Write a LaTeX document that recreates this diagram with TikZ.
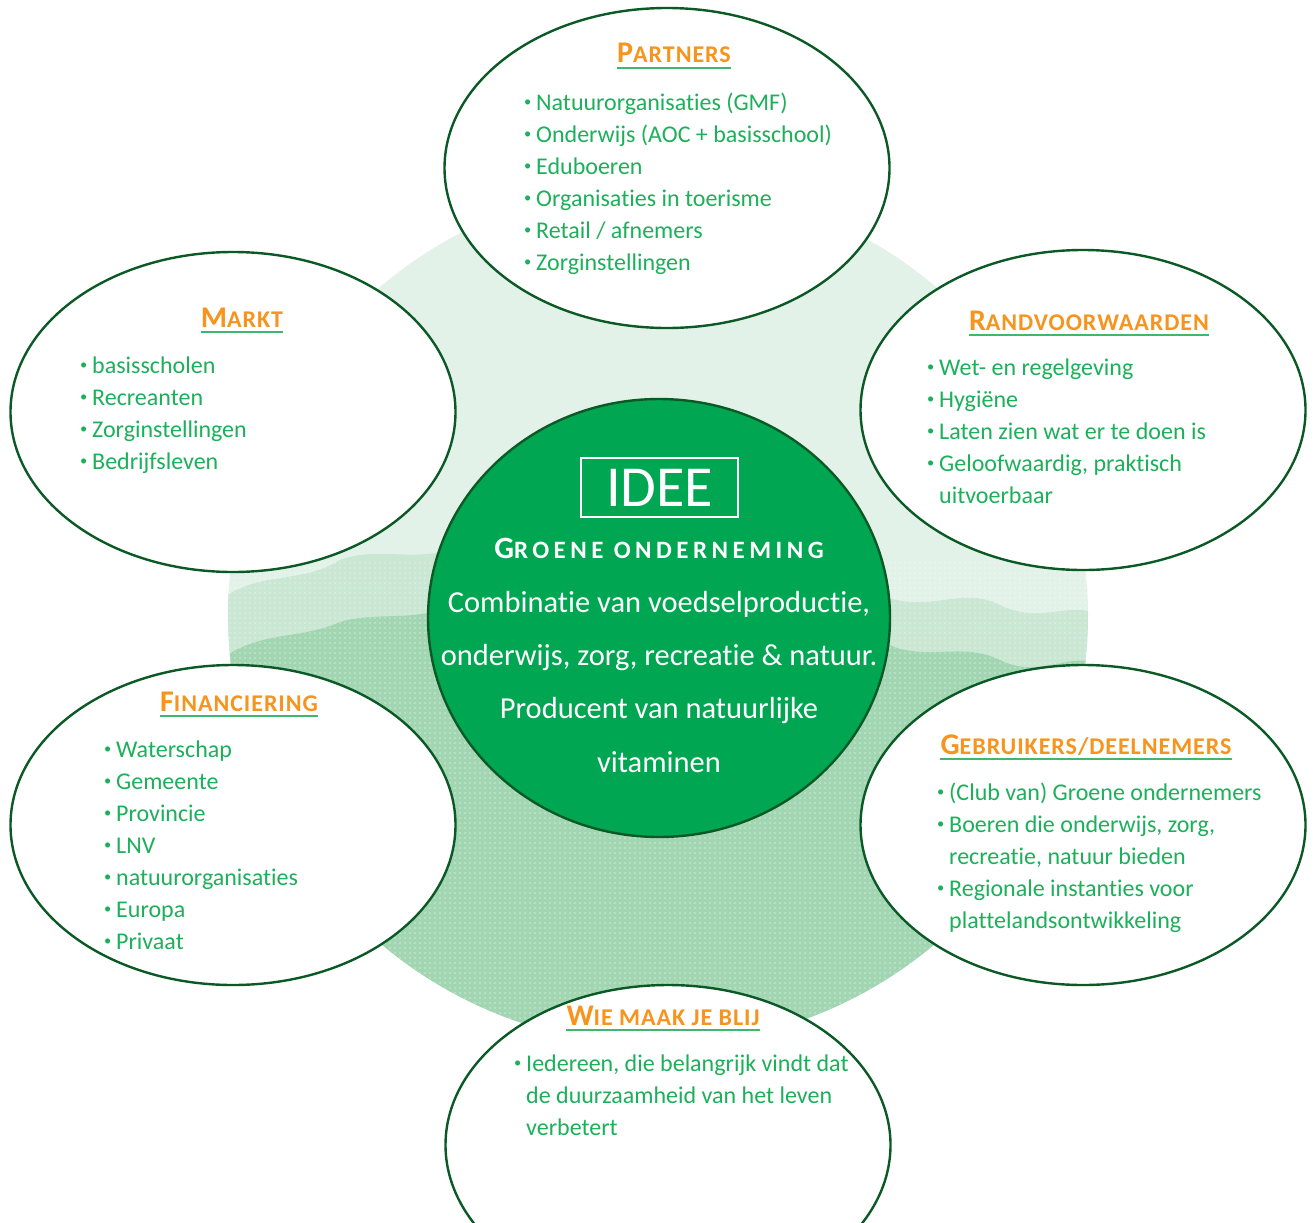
\documentclass[tikz,border=0pt]{standalone}
\usepackage{fontspec}
\setmainfont[Ligatures=NoCommon]{Carlito}
\newfontfamily\capsfont[Ligatures=NoCommon,LetterSpace=4]{Carlito}
\newfontfamily\widefont[Ligatures=NoCommon,LetterSpace=18]{Carlito}
\usetikzlibrary{shapes.geometric,patterns.meta}

\definecolor{rim}{HTML}{0B5A26}
\definecolor{leaf}{HTML}{00A651}
\definecolor{txtgreen}{HTML}{1CB05A}
\definecolor{orangetitle}{HTML}{F7941D}
\definecolor{uline}{HTML}{3DB86E}
\definecolor{mist}{HTML}{E3F2E8}
\definecolor{moss}{HTML}{A2D6B3}

\newcommand\blt{\makebox[13pt][l]{\hspace{1pt}\raisebox{0.4ex}{\scalebox{0.6}{\textbullet}}}}
\newcommand\hang{\hspace*{13pt}}
\newcommand\sctitle[2]{{\fontsize{30}{30}\selectfont #1}{\fontsize{24}{24}\selectfont #2}}

\begin{document}
\begin{tikzpicture}[x=1pt, y=-1pt, nodes={inner sep=0pt},
    blob/.style={ellipse, draw=rim, line width=2.4pt, fill=white,
      minimum width=445pt, minimum height=320pt},
    head/.style={anchor=base, text=orangetitle, font=\bfseries\capsfont},
    uline/.style={draw=uline, line width=2pt},
    list/.style={anchor=north west, align=left, text=txtgreen,
      font=\fontsize{24}{32}\selectfont},
    core/.style={ellipse, draw=rim, line width=2.4pt, fill=leaf,
      minimum width=462pt, minimum height=438pt}]
  \useasboundingbox (0,0) rectangle (1314,1223);

  % background disc with halftone band
  \begin{scope}
    \clip (658,615) circle (430);
    \fill[mist] (658,615) circle (430);
    \fill[moss!40!mist] (220,600) .. controls (260,570) and (300,585) .. (340,560)
      .. controls (380,545) and (420,565) .. (460,545)
      -- (880,595) .. controls (930,615) and (960,585) .. (1000,605)
      .. controls (1040,625) and (1070,600) .. (1100,615)
      -- (1100,1060) -- (220,1060) -- cycle;
    \fill[moss] (220,660) .. controls (260,630) and (300,640) .. (340,622)
      .. controls (380,610) and (420,625) .. (460,600)
      -- (880,640) .. controls (920,665) and (960,640) .. (1000,660)
      .. controls (1040,680) and (1070,650) .. (1100,665)
      -- (1100,1060) -- (220,1060) -- cycle;
    \fill[pattern={Dots[distance=5pt, radius=1.1pt]}, pattern color=white, opacity=0.3]
      (220,560) rectangle (1100,1060);
  \end{scope}

  % outer ellipses
  \foreach \name/\cx/\cy in {
      partners/667/168,
      markt/233/412,
      rand/1083/410,
      fin/233/825,
      gebr/1083/825,
      wie/668/1145%
    } {
      \node[blob] (\name) at (\cx,\cy) {};
    };

  % titles with underline
  \foreach \name/\cx/\cy/\first/\rest in {
      partners/674/63/P/ARTNERS,
      markt/242/327/M/ARKT,
      rand/1089/330/R/ANDVOORWAARDEN,
      fin/239/711/F/INANCIERING,
      gebr/1086/754/G/{EBRUIKERS/DEELNEMERS},
      wie/663/1025/W/{IE MAAK JE BLIJ}%
    } {
      \node[head] (\name-t) at (\cx,\cy) {\sctitle{\first}{\rest}};
      \draw[uline] ([yshift=-5pt]\name-t.base west) -- ([yshift=-5pt]\name-t.base east);
    };

  % lists
  \node[list] (partners-l) at (523,93) {\blt Natuurorganisaties (GMF)\\
    \blt Onderwijs (AOC + basisschool)\\ \blt Eduboeren\\
    \blt Organisaties in toerisme\\ \blt Retail / afnemers\\
    \blt Zorginstellingen};
  \node[list] (markt-l) at (79,357) {\blt basisscholen\\ \blt Recreanten\\
    \blt Zorginstellingen\\ \blt Bedrijfsleven};
  \node[list] (rand-l) at (926,359) {\blt Wet- en regelgeving\\ \blt Hygiëne\\
    \blt Laten zien wat er te doen is\\ \blt Geloofwaardig, praktisch\\
    \hang uitvoerbaar};
  \node[list] (fin-l) at (103,741) {\blt Waterschap\\ \blt Gemeente\\
    \blt Provincie\\ \blt LNV\\ \blt natuurorganisaties\\ \blt Europa\\
    \blt Privaat};
  \node[list] (gebr-l) at (936,783) {\blt (Club van) Groene ondernemers\\
    \blt Boeren die onderwijs, zorg,\\ \hang recreatie, natuur bieden\\
    \blt Regionale instanties voor\\ \hang plattelandsontwikkeling};
  \node[list] (wie-l) at (513,1055) {\blt Iedereen, die belangrijk vindt dat\\
    \hang de duurzaamheid van het leven\\ \hang verbetert};

  % centre
  \node[core] (idea) at (659,618) {};
  \node[draw=white, line width=1.5pt, minimum width=157pt, minimum height=59pt,
    text=white, font=\fontsize{58}{58}\selectfont] (idee) at (659.5,487.5) {IDEE};
  \node[anchor=base, text=white, font=\bfseries\widefont] (firm) at (659,558)
    {{\fontsize{31}{31}\selectfont G}{\fontsize{25}{25}\selectfont ROENE ONDERNEMING}};
  \node[anchor=north, align=center, text=white, font=\fontsize{30.5}{53.3}\selectfont]
    (blurb) at (659,591) {Combinatie van voedselproductie,\\
    onderwijs, zorg, recreatie \& natuur.\\ Producent van natuurlijke\\ vitaminen};
\end{tikzpicture}
\end{document}
